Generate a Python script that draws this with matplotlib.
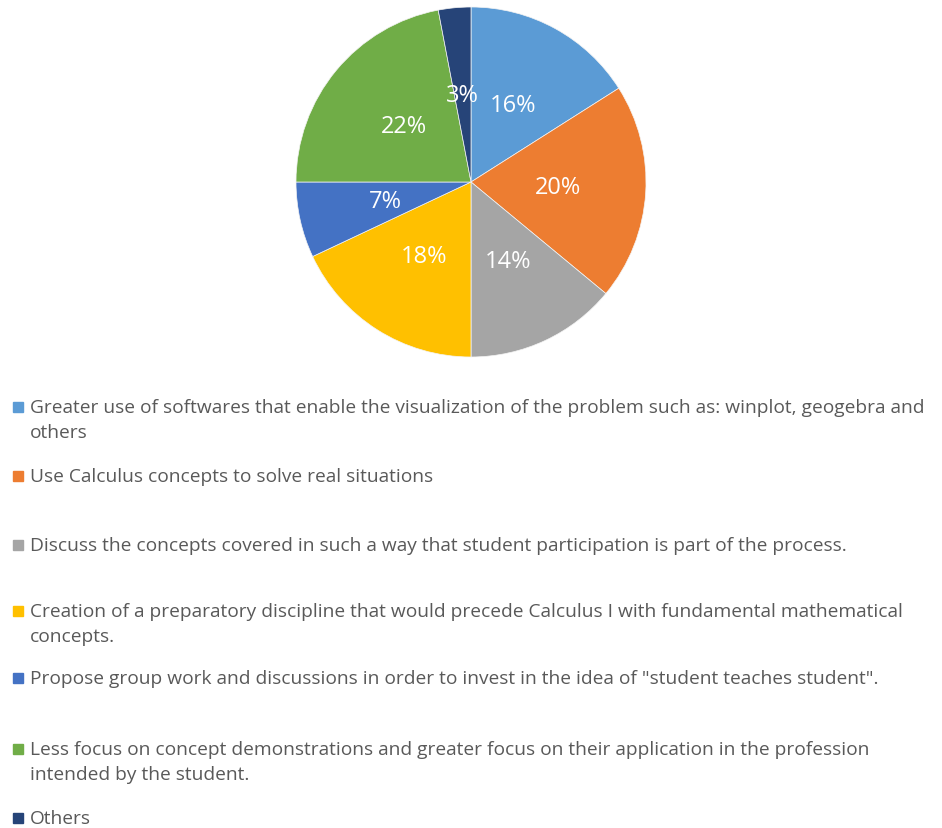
import matplotlib.pyplot as plt
from matplotlib.patches import Rectangle

# slice values (percent), clockwise from 12 o'clock
shares = [16, 20, 14, 18, 7, 22, 3]
colors = ["#5B9BD5", "#ED7D31", "#A5A5A5", "#FFC000", "#4472C4", "#70AD47", "#264478"]
legend_lines = [
    ["Greater use of softwares that enable the visualization of the problem such as: winplot, geogebra and",
     "others"],
    ["Use Calculus concepts to solve real situations"],
    ["Discuss the concepts covered in such a way that student participation is part of the process."],
    ["Creation of a preparatory discipline that would precede Calculus I with fundamental mathematical",
     "concepts."],
    ["Propose group work and discussions in order to invest in the idea of \"student teaches student\"."],
    ["Less focus on concept demonstrations and greater focus on their application in the profession",
     "intended by the student."],
    ["Others"],
]

W, H = 942, 829
fig = plt.figure(figsize=(W / 100, H / 100), dpi=100)
plt.rcParams['font.family'] = ['Open Sans', 'DejaVu Sans']

# pie area: centre (471,183), radius ~175 px
ax = fig.add_axes([(471 - 175) / W, (H - 358) / H, 350 / W, 350 / H])
wedges, texts, autotexts = ax.pie(
    shares,
    colors=colors,
    startangle=90,
    counterclock=False,
    autopct=lambda p: f"{p:.0f}%",
    pctdistance=0.5,
    wedgeprops=dict(linewidth=0.5, edgecolor="#f4f4f4"),
    textprops=dict(color="white", fontsize=17),
)
ax.set_xlim(-1, 1)
ax.set_ylim(-1, 1)
ax.set_aspect("equal")

# legend drawn by hand, one slot per entry
entry_y = [408, 477, 546, 612, 679, 750, 819]
line_gap = 25
for lines, y, c in zip(legend_lines, entry_y, colors):
    fig.patches.append(Rectangle((13 / W, 1 - (y + 5) / H), 10 / W, 10 / H,
                                 transform=fig.transFigure, color=c))
    for k, txt in enumerate(lines):
        fig.text(30 / W, 1 - (y + k * line_gap) / H, txt, fontsize=13.8,
                 color="#595959", ha="left", va="center")

plt.savefig("out.png", dpi=100, facecolor="white")
